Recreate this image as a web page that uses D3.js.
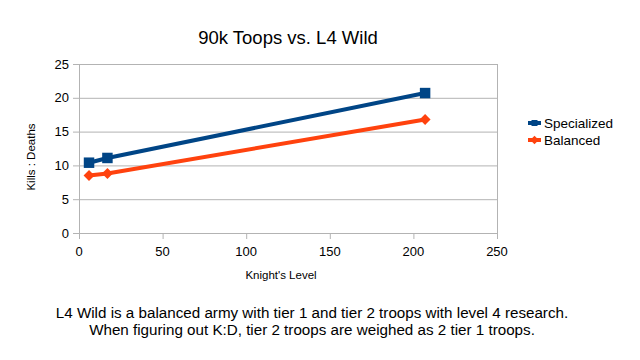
<!DOCTYPE html>
<html>
<head>
<meta charset="utf-8">
<script src="https://cdn.jsdelivr.net/npm/d3@7"></script>
<style>
  body { margin: 0; background: #fff; }
  text { font-family: "Liberation Sans", Arial, sans-serif; fill: #000; }
</style>
</head>
<body>
<div id="chart"></div>
<script>
// chart size
var width = 640;
var height = 360;

// data
var knightLevels = [6, 17, 207];
var specialized = [10.4, 11.1, 20.7];
var balanced = [8.5, 8.8, 16.8];
var seriesNames = ["Specialized", "Balanced"];
var xTicks = [0, 50, 100, 150, 200, 250];
var yTicks = [0, 5, 10, 15, 20, 25];

var colors = { "Specialized": "#004586", "Balanced": "#ff420e" };

var svg = d3.select("#chart")
  .append("svg")
  .attr("width", width)
  .attr("height", height);

var x = d3.scaleLinear().domain([0, 250]).range([79, 497]);
var y = d3.scaleLinear().domain([0, 25]).range([233, 64]);

// horizontal grid lines
svg.append("g")
  .selectAll("line")
  .data(yTicks)
  .enter()
  .append("line")
  .attr("x1", x(0) - 6)
  .attr("x2", x(250))
  .attr("y1", function(d) { return y(d) + 0.5; })
  .attr("y2", function(d) { return y(d) + 0.5; })
  .attr("stroke", "#b3b3b3");

// left axis and right border
svg.append("line")
  .attr("x1", x(0) + 0.5).attr("x2", x(0) + 0.5)
  .attr("y1", y(25)).attr("y2", y(0))
  .attr("stroke", "#b3b3b3");
svg.append("line")
  .attr("x1", x(250) + 0.5).attr("x2", x(250) + 0.5)
  .attr("y1", y(25)).attr("y2", y(0) + 6)
  .attr("stroke", "#b3b3b3");

// x ticks
svg.append("g")
  .selectAll("line")
  .data(xTicks)
  .enter()
  .append("line")
  .attr("x1", function(d) { return x(d) + 0.5; })
  .attr("x2", function(d) { return x(d) + 0.5; })
  .attr("y1", y(0))
  .attr("y2", y(0) + 6)
  .attr("stroke", "#b3b3b3");

// tick labels
svg.append("g")
  .selectAll("text")
  .data(yTicks)
  .enter()
  .append("text")
  .attr("x", 69)
  .attr("y", function(d) { return y(d); })
  .attr("dy", "0.35em")
  .attr("text-anchor", "end")
  .style("font-size", "13px")
  .text(function(d) { return d; });

svg.append("g")
  .selectAll("text")
  .data(xTicks)
  .enter()
  .append("text")
  .attr("x", function(d) { return x(d); })
  .attr("y", 251)
  .attr("dy", "0.35em")
  .attr("text-anchor", "middle")
  .style("font-size", "13px")
  .text(function(d) { return d; });

// axis titles
svg.append("text")
  .attr("x", 281)
  .attr("y", 279)
  .attr("text-anchor", "middle")
  .style("font-size", "11.5px")
  .text("Knight's Level");

svg.append("text")
  .attr("transform", "translate(35,157) rotate(-90)")
  .attr("text-anchor", "middle")
  .style("font-size", "11.5px")
  .text("Kills : Deaths");

// title
svg.append("text")
  .attr("x", 288)
  .attr("y", 44)
  .attr("text-anchor", "middle")
  .style("font-size", "18.5px")
  .text("90k Toops vs. L4 Wild");

// lines
var line = d3.line()
  .x(function(d) { return x(d[0]); })
  .y(function(d) { return y(d[1]); });

var series = [
  { name: "Specialized", values: d3.zip(knightLevels, specialized), rot: 0, size: 110 },
  { name: "Balanced", values: d3.zip(knightLevels, balanced), rot: 45, size: 60 }
];

series.forEach(function(s) {
  svg.append("path")
    .datum(s.values)
    .attr("d", line)
    .attr("fill", "none")
    .attr("stroke", colors[s.name])
    .attr("stroke-width", 4);

  svg.append("g")
    .selectAll("path")
    .data(s.values)
    .enter()
    .append("path")
    .attr("transform", function(d) {
      return "translate(" + x(d[0]) + "," + y(d[1]) + ") rotate(" + s.rot + ")";
    })
    .attr("d", d3.symbol().type(d3.symbolSquare).size(s.size))
    .attr("fill", colors[s.name]);
});

// legend
var legend = svg.append("g")
  .selectAll("g")
  .data(series)
  .enter()
  .append("g")
  .attr("transform", function(d, i) { return "translate(528," + (123 + i * 17) + ")"; });

legend.append("line")
  .attr("x1", 0).attr("x2", 13)
  .attr("stroke", function(d) { return colors[d.name]; })
  .attr("stroke-width", 4);

legend.append("path")
  .attr("transform", function(d) { return "translate(6.5,0) rotate(" + d.rot + ")"; })
  .attr("d", d3.symbol().type(d3.symbolSquare).size(36))
  .attr("fill", function(d) { return colors[d.name]; });

legend.append("text")
  .attr("x", 16)
  .attr("dy", "0.35em")
  .style("font-size", "13.5px")
  .text(function(d) { return d.name; });

// footer note
var notes = [
  "L4 Wild is a balanced army with tier 1 and tier 2 troops with level 4 research.",
  "When figuring out K:D, tier 2 troops are weighed as 2 tier 1 troops."
];
svg.append("g")
  .selectAll("text")
  .data(notes)
  .enter()
  .append("text")
  .attr("x", 312)
  .attr("y", function(d, i) { return 318 + i * 17; })
  .attr("text-anchor", "middle")
  .style("font-size", "15.2px")
  .text(function(d) { return d; });
</script>
</body>
</html>
